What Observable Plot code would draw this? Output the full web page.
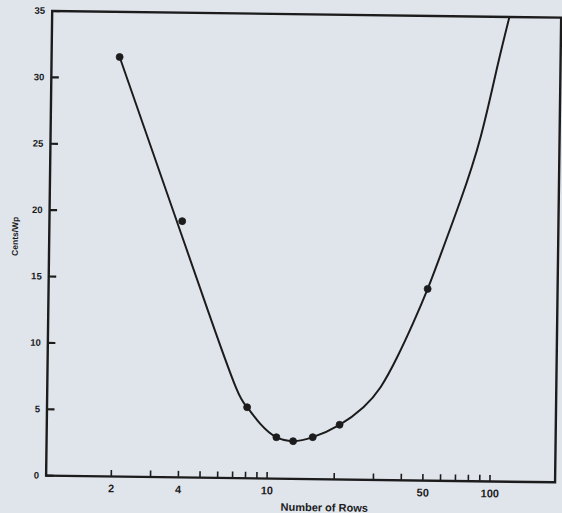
<!DOCTYPE html>
<html>
<head>
<meta charset="utf-8">
<script src="https://cdn.jsdelivr.net/npm/d3@7"></script>
<script src="https://cdn.jsdelivr.net/npm/@observablehq/plot@0.6"></script>
<style>
  html, body { margin: 0; padding: 0; background: #e0e5ec; overflow: hidden; }
  #chart svg { display: block; transform: rotate(0.75deg); transform-origin: 50% 50%; }
</style>
</head>
<body>
<div id="chart"></div>
<script>
// Measured points (Number of Rows vs Cents/Wp)
const rows  = [2.06, 4.02, 8.06, 10.95, 13.02, 15.94, 21.0, 51.2];
const cents = [31.6, 19.3, 5.35, 3.12, 2.84, 3.16, 4.12, 14.44];

// Fitted curve
const curveRows  = [2.06, 3.98, 5.51, 7.15, 8.06, 9.26, 10.95, 13.02, 15.94, 21.0, 26.8, 31.9, 37.7, 44.4, 51.2, 58.2, 71.0, 86.6, 101.9, 115.2];
const curveCents = [31.6, 18.37, 11.84, 6.85, 5.35, 4.11, 3.12, 2.84, 3.16, 4.12, 5.47, 6.99, 9.26, 11.9, 14.44, 17.0, 21.13, 25.9, 31.2, 35.1];

// Axis ticks
const xTicks = [2, 3, 4, 5, 6, 7, 8, 9, 10, 20, 30, 40, 50, 60, 70, 80, 90, 100];
const xTickLabels = [2, 4, 10, 50, 100];
const yTicks = [0, 5, 10, 15, 20, 25, 30, 35];
const xDomain = [1.02, 196];
const yDomain = [0, 35];

const xLabel = "Number of Rows";
const yLabel = "Cents/Wp";

const points = rows.map((r, i) => ({rows: r, cents: cents[i]}));
const curve = curveRows.map((r, i) => ({rows: r, cents: curveCents[i]}));

const W = 562, H = 513;
const mL = 48.5, mR = 4.5, mT = 13.5, mB = 34.8;
const frameW = W - mL - mR, frameH = H - mT - mB;
const ink = "#1c1c1c";
const font = "'Liberation Sans', Arial, Helvetica, sans-serif";

const chart = Plot.plot({
  width: W,
  height: H,
  marginLeft: mL,
  marginRight: mR,
  marginTop: mT,
  marginBottom: mB,
  style: {background: "transparent", fontFamily: font, color: ink},
  x: {type: "log", domain: xDomain},
  y: {domain: yDomain},
  marks: [
    Plot.line(curve, {x: "rows", y: "cents", curve: "natural", stroke: ink, strokeWidth: 2, clip: true}),
    Plot.dot(points, {x: "rows", y: "cents", r: 3.5, fill: ink, stroke: ink, strokeWidth: 0.8}),
    Plot.ruleX(xTicks, {x: d => d, stroke: ink, strokeWidth: 1.6, insetTop: frameH - 6}),
    Plot.ruleY(yTicks, {y: d => d, stroke: ink, strokeWidth: 2.2, insetRight: frameW - 8}),
    Plot.axisX({ticks: xTickLabels, tickSize: 0, tickPadding: 8, tickFormat: d => String(d), label: null, fontSize: 11, fontWeight: "bold", fill: ink}),
    Plot.axisY({ticks: yTicks, tickSize: 0, tickPadding: 7, tickFormat: d => String(d), label: null, fontSize: 9.5, fontWeight: "bold", fill: ink}),
    Plot.frame({stroke: ink, strokeWidth: 2.4}),
    Plot.text([xLabel], {frameAnchor: "bottom", text: d => d, dx: 24, dy: 28.5, fontSize: 11, fontWeight: "bold", fill: ink, lineAnchor: "middle"}),
    Plot.text([yLabel], {frameAnchor: "left", text: d => d, dx: -34, dy: 13, rotate: -90, fontSize: 8.5, fontWeight: "bold", fill: ink, lineAnchor: "middle"})
  ]
});

document.getElementById("chart").append(chart);
</script>
</body>
</html>
